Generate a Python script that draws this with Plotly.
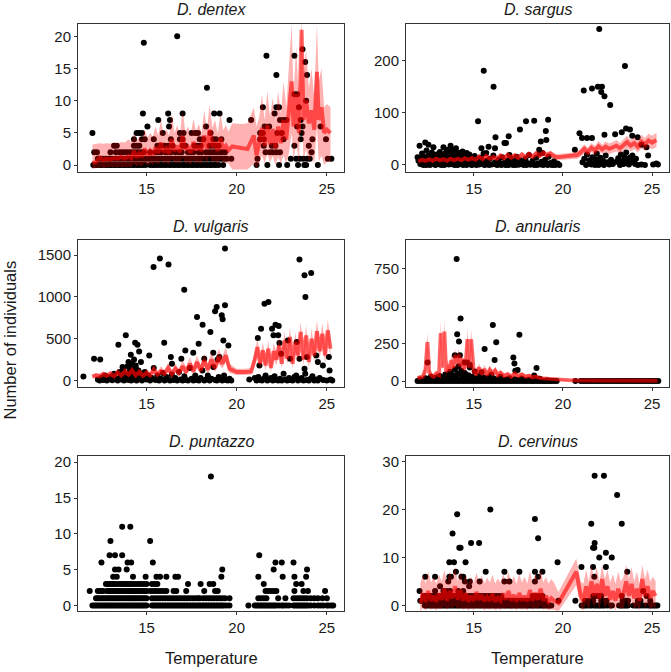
import plotly.graph_objects as go

# ---------------- D. dentex (count rows) ----------------
dentex_counts = [0, 1, 2, 3, 4, 5, 6, 7, 8, 9, 10, 11, 12, 14, 16, 17, 18, 19, 20]
dentex_temps = [
    [12.05, 12.2, 12.3, 12.45, 12.55, 12.7, 12.8, 12.95, 13.05, 13.2, 13.3, 13.45, 13.55, 13.7, 13.8, 13.95,
     14.05, 14.2, 14.3, 14.45, 14.55, 14.7, 14.8, 14.95, 15.2, 15.35, 15.45, 15.6, 15.75, 15.85, 16.0, 16.1,
     16.25, 16.35, 16.5, 16.6, 16.75, 16.85, 17.0, 17.1, 17.25, 17.35, 17.5, 17.6, 17.75, 17.85, 18.0, 18.1,
     18.25, 18.35, 18.5, 18.6, 18.75, 18.85, 19.0, 19.25, 21.1, 21.7, 22.35, 22.8, 23.4, 23.75, 23.85, 24.5],
    [12.3, 12.45, 12.6, 12.75, 12.9, 13.0, 13.15, 13.3, 13.45, 13.6, 13.75, 13.9, 14.05, 14.2, 14.35, 14.5,
     14.65, 14.8, 14.95, 15.1, 15.25, 15.4, 15.55, 15.7, 15.85, 16.0, 16.15, 16.3, 16.45, 16.6, 16.75, 16.9,
     17.05, 17.2, 17.35, 17.5, 17.65, 17.8, 17.95, 18.1, 18.25, 18.4, 18.55, 18.7, 18.85, 19.0, 19.15, 19.3,
     19.45, 19.7, 21.15, 23.0, 23.3, 23.5, 23.7, 23.9, 24.05, 25.05, 25.25],
    [12.1, 12.25, 13.0, 13.3, 13.5, 13.65, 13.8, 13.95, 14.1, 14.25, 14.4, 14.55, 14.7, 14.85, 15.2, 15.5,
     15.65, 15.8, 16.05, 16.2, 16.35, 16.6, 16.8, 16.95, 17.3, 17.45, 17.6, 17.9, 18.05, 18.3, 18.45, 18.6,
     18.75, 18.9, 19.05, 19.2, 19.35, 21.6, 21.85, 22.0, 22.2, 22.4, 24.15],
    [13.2, 13.35, 14.3, 14.45, 14.6, 15.6, 15.75, 16.0, 16.2, 16.45, 17.0, 17.15, 17.65, 17.8, 18.0, 18.5,
     18.65, 18.8, 19.0, 21.5, 21.95, 22.15, 23.2, 24.0],
    [14.3, 14.75, 14.9, 15.4, 16.35, 16.85, 17.0, 17.95, 18.15, 18.7, 18.85, 19.15, 21.3, 21.5, 22.6, 23.55,
     24.2, 24.95],
    [12.0, 14.45, 14.6, 14.75, 15.9, 16.85, 17.05, 17.5, 17.7, 17.85, 18.55, 21.3, 21.45, 22.25, 22.5, 23.6],
    [15.05, 16.25, 18.3, 21.55, 21.8, 23.35, 23.65, 24.65],
    [15.65, 16.3, 19.6, 20.8, 22.4, 22.6, 22.75, 23.55],
    [14.8, 16.2, 17.0, 18.75, 19.05, 22.1],
    [21.45, 22.2, 22.35, 23.45],
    [23.85],
    [23.2, 23.35],
    [18.35],
    [22.2, 23.9],
    [23.8],
    [21.65, 23.2],
    [23.65],
    [14.85],
    [16.7],
]
dentex_fit_t = [12.0, 12.2, 12.4, 12.6, 12.8, 13.0, 13.2, 13.4, 13.6, 13.8, 14.0, 14.15, 14.3, 14.45, 14.6,
                14.75, 14.9, 15.05, 15.2, 15.35, 15.5, 15.65, 15.8, 15.95, 16.1, 16.25, 16.4, 16.55, 16.7,
                16.85, 17.0, 17.15, 17.3, 17.45, 17.6, 17.75, 17.9, 18.05, 18.2, 18.35, 18.5, 18.65, 18.8,
                18.95, 19.1, 19.25, 19.4, 19.55, 19.75, 20.3, 20.6, 20.95, 21.1, 21.25, 21.4, 21.55, 21.7,
                21.85, 22.0, 22.15, 22.3, 22.45, 22.6, 22.75, 22.9, 23.05, 23.15, 23.3, 23.45, 23.6, 23.7,
                23.85, 24.0, 24.15, 24.3, 24.45, 24.55, 24.7, 24.85, 25.0, 25.2]
dentex_fit = [0.3, 0.5, 1.2, 0.8, 1.0, 0.9, 1.1, 1.0, 1.3, 1.0,
              1.4, 1.1, 2.2, 1.2, 1.8, 1.3, 2.6, 1.5, 2.2, 1.6,
              2.8, 1.9, 3.5, 2.0, 2.6, 1.8, 4.0, 2.2, 3.0, 2.0,
              4.5, 2.4, 2.8, 1.9, 3.6, 2.3, 3.0, 2.2, 4.6, 2.5,
              5.5, 2.8, 3.6, 2.2, 4.2, 2.5, 3.0, 2.3, 2.9, 2.6,
              2.5, 4.6, 1.5, 3.5, 5.8, 3.0, 6.2, 3.2, 5.6, 2.6,
              6.0, 3.4, 7.0, 4.0, 8.0, 13.0, 6.0, 11.0, 5.0, 21.0,
              7.0, 10.0, 6.5, 8.5, 5.5, 14.5, 7.0, 9.0, 5.0, 5.5,
              5.0]
dentex_lo = [-0.6, -0.5, -0.3, -0.4, -0.3, -0.3, -0.3, -0.3, -0.2, -0.3,
             -0.2, -0.3, 0.2, -0.2, 0.0, -0.2, 0.4, -0.1, 0.3, 0.0,
             0.5, 0.1, 0.8, 0.2, 0.4, 0.1, 1.0, 0.3, 0.5, 0.2,
             1.2, 0.3, 0.4, 0.1, 0.8, 0.3, 0.5, 0.2, 1.2, 0.3,
             1.5, 0.4, 0.7, 0.2, 1.0, 0.3, 0.4, 0.2, -0.7, -0.7,
             -0.7, 0.2, -0.5, 0.2, 1.5, 0.3, 1.8, 0.4, 1.4, 0.0,
             1.2, 0.2, 1.5, 0.3, 2.0, 5.0, 0.8, 3.5, 0.2, 12.0,
             0.8, 2.5, 0.5, 1.5, 0.2, 6.0, 0.5, 1.5, 0.0, 0.5,
             0.5]
dentex_hi = [3.2, 3.3, 3.4, 3.3, 3.4, 3.3, 3.5, 3.4, 3.6, 3.5,
             4.0, 3.6, 5.0, 3.8, 4.5, 3.9, 5.5, 4.2, 5.0, 4.4,
             6.0, 4.6, 7.0, 4.8, 5.6, 4.6, 8.0, 5.0, 6.2, 4.8,
             8.5, 5.2, 6.0, 4.7, 7.2, 5.2, 6.4, 5.0, 8.5, 5.4,
             9.5, 5.8, 7.0, 5.0, 8.0, 5.4, 6.2, 5.2, 6.5, 6.4,
             6.5, 9.0, 6.0, 7.5, 11.0, 7.0, 11.5, 7.5, 10.5, 7.0,
             11.5, 8.0, 13.0, 9.0, 15.0, 22.0, 11.0, 18.5, 10.0, 23.0,
             13.5, 18.0, 12.0, 15.0, 10.5, 22.0, 13.0, 15.0, 9.0, 9.5,
             9.0]

# ---------------- D. sargus (temperature, count) ----------------
sargus_obs = [
    (11.85, 15), (11.96, 37), (12.28, 43), (12.46, 39), (12.74, 34), (13.3, 34), (13.48, 29), (13.7, 37),
    (13.81, 29), (14.0, 32), (14.37, 26), (14.6, 23), (15.24, 84), (15.43, 32), (15.56, 181), (15.7, 23),
    (15.83, 35), (16.11, 150), (16.22, 53), (16.19, 32), (16.72, 42), (16.96, 55), (16.81, 42), (17.0, 19),
    (17.59, 68), (17.93, 84), (18.39, 85), (18.67, 29), (18.76, 45), (19.04, 65), (19.07, 48), (19.17, 87),
    (18.85, 23), (20.67, 29), (20.93, 61), (21.07, 52), (21.17, 143), (21.35, 52), (21.63, 52), (21.63, 147),
    (22.04, 261), (21.96, 150), (22.19, 150), (22.15, 140), (22.33, 132), (22.65, 115), (22.33, 58),
    (22.93, 59), (23.3, 63), (23.48, 190), (23.54, 70), (23.76, 68), (23.89, 56), (24.19, 53), (24.41, 39),
    (24.69, 34), (24.78, 18), (25.06, 1), (25.24, 3), (25.33, 1),
    (11.9, 8), (12.0, 2), (12.05, 12), (12.1, 22), (12.15, 5), (12.2, 0), (12.25, 15), (12.3, 9), (12.35, 28),
    (12.4, 3), (12.45, 18), (12.5, 6), (12.55, 0), (12.6, 12), (12.65, 24), (12.7, 4), (12.75, 16), (12.8, 8),
    (12.85, 1), (12.9, 20), (12.95, 10), (13.0, 3), (13.05, 14), (13.1, 25), (13.15, 6), (13.2, 0), (13.25, 18),
    (13.3, 9), (13.35, 2), (13.4, 22), (13.45, 12), (13.5, 5), (13.55, 16), (13.6, 1), (13.65, 26), (13.7, 8),
    (13.75, 14), (13.8, 3), (13.85, 20), (13.9, 10), (13.95, 0), (14.0, 17), (14.05, 6), (14.1, 24), (14.15, 12),
    (14.2, 2), (14.25, 19), (14.3, 8), (14.35, 14), (14.4, 0), (14.45, 22), (14.5, 5), (14.55, 11), (14.6, 16),
    (14.65, 2), (14.7, 9), (14.75, 20), (14.8, 4), (14.85, 13), (14.9, 0), (14.95, 7), (15.05, 17), (15.1, 3),
    (15.2, 10), (15.3, 1), (15.4, 14), (15.5, 5), (15.55, 22), (15.6, 0), (15.7, 8), (15.8, 3), (15.9, 12),
    (16.0, 1), (16.1, 18), (16.2, 5), (16.3, 0), (16.4, 10), (16.5, 2), (16.6, 15), (16.7, 4), (16.8, 0),
    (16.9, 8), (17.0, 2), (17.1, 12), (17.2, 0), (17.3, 6), (17.4, 16), (17.5, 1), (17.6, 9), (17.7, 3),
    (17.8, 0), (17.9, 12), (18.0, 4), (18.1, 19), (18.2, 1), (18.3, 8), (18.4, 0), (18.5, 14), (18.6, 3),
    (18.7, 22), (18.8, 6), (18.9, 0), (19.0, 10), (19.1, 2), (19.2, 16), (19.3, 4), (19.4, 0), (19.5, 7),
    (19.6, 1), (19.7, 3), (19.8, 0),
    (12.1, 1), (12.35, 0), (12.6, 2), (12.85, 0), (13.1, 1), (13.35, 0), (13.6, 3), (13.85, 1), (14.1, 0),
    (14.35, 2), (14.6, 0), (14.85, 1), (15.15, 0), (15.35, 2), (15.65, 1), (15.85, 0), (16.15, 2), (16.35, 1),
    (16.55, 0), (16.75, 1), (16.95, 0), (17.15, 2), (17.35, 0), (17.55, 1), (17.75, 2), (17.95, 0), (18.15, 1),
    (18.35, 2), (18.55, 0), (18.75, 1), (18.95, 2), (19.15, 0), (19.35, 1), (19.55, 0),
    (21.1, 5), (21.2, 12), (21.3, 0), (21.35, 20), (21.45, 3), (21.5, 9), (21.6, 1), (21.65, 15), (21.75, 4),
    (21.8, 0), (21.85, 11), (21.9, 22), (21.95, 6), (22.0, 0), (22.1, 14), (22.15, 3), (22.25, 8), (22.3, 0),
    (22.4, 18), (22.5, 5), (22.6, 1), (22.7, 10), (22.8, 2), (23.0, 6), (23.1, 13), (23.2, 0), (23.25, 20),
    (23.3, 7), (23.4, 2), (23.45, 15), (23.5, 4), (23.55, 24), (23.6, 9), (23.7, 1), (23.75, 14), (23.8, 5),
    (23.9, 18), (24.0, 8), (24.05, 2), (24.1, 12), (24.2, 0), (24.4, 1), (24.6, 0),
]
sargus_fit_t = [11.9, 12.1, 12.3, 12.5, 12.7, 12.9, 13.1, 13.3, 13.5, 13.7, 13.9, 14.1, 14.3, 14.5, 14.7,
                14.9, 15.1, 15.3, 15.5, 15.7, 15.9, 16.1, 16.3, 16.5, 16.7, 16.9, 17.1, 17.3, 17.5, 17.7,
                17.9, 18.1, 18.3, 18.5, 18.7, 18.9, 19.1, 19.3, 19.5, 19.7, 20.0, 20.4, 20.8, 21.0, 21.2,
                21.4, 21.6, 21.8, 22.0, 22.2, 22.4, 22.6, 22.8, 23.0, 23.2, 23.4, 23.6, 23.8, 24.0, 24.2,
                24.4, 24.6, 24.8, 25.0, 25.25]
sargus_fit = [7, 10, 8, 11, 8, 12, 9, 11, 8, 12, 9, 12, 9, 13, 10, 13, 10, 16, 11, 17,
              12, 15, 12, 18, 13, 19, 14, 18, 14, 20, 15, 21, 16, 22, 18, 23, 19, 22, 17, 15,
              16, 17, 19, 24, 31, 25, 33, 28, 36, 30, 35, 31, 34, 37, 32, 39, 44, 37, 42, 35,
              45, 40, 47, 43, 48]
sargus_lo = [3, 6, 4, 7, 4, 8, 5, 7, 4, 8, 5, 8, 5, 9, 6, 9, 6, 11, 7, 12,
             8, 10, 8, 13, 9, 14, 9, 13, 9, 14, 10, 15, 11, 16, 12, 17, 13, 16, 11, 10,
             10, 11, 12, 16, 22, 17, 24, 19, 26, 21, 25, 21, 24, 26, 22, 28, 32, 26, 30, 24,
             32, 28, 34, 30, 34]
sargus_hi = [11, 14, 12, 15, 12, 16, 13, 15, 12, 16, 13, 16, 13, 17, 14, 18, 14, 21, 15, 22,
             16, 20, 17, 23, 18, 25, 19, 24, 19, 26, 20, 27, 21, 28, 24, 29, 25, 28, 23, 20,
             22, 23, 26, 32, 40, 33, 42, 37, 46, 39, 45, 41, 44, 48, 42, 50, 56, 48, 54, 46,
             58, 52, 60, 56, 62]

# ---------------- D. vulgaris (temperature, count) ----------------
vulgaris_obs = [
    (11.5, 48), (12.09, 260), (12.43, 252), (13.44, 428), (13.67, 160), (13.85, 540), (14.0, 220),
    (14.13, 308), (14.31, 252), (14.37, 452), (14.5, 428), (14.59, 348), (14.4, 180), (14.19, 148),
    (14.69, 220), (15.15, 300), (15.39, 1360), (15.74, 1460), (15.98, 452), (16.22, 1388), (16.35, 280),
    (16.41, 200), (17.09, 1088), (17.15, 360), (16.93, 260), (17.59, 332), (17.8, 760), (17.89, 440),
    (18.11, 668), (18.2, 260), (18.54, 580), (18.7, 332), (18.8, 828), (18.89, 880), (19.17, 780),
    (19.22, 732), (19.35, 1580), (19.35, 900), (19.26, 480), (19.54, 420), (19.04, 280), (18.94, 252),
    (21.17, 508), (21.35, 620), (21.54, 920), (21.76, 940), (21.96, 620), (22.04, 540), (22.15, 668),
    (22.33, 652), (22.3, 540), (22.37, 448), (22.46, 320), (22.83, 480), (22.96, 260), (23.48, 1448),
    (23.76, 1260), (23.81, 1000), (24.13, 1288), (23.33, 460), (23.48, 260), (23.76, 140), (23.89, 280),
    (24.41, 300), (24.5, 220), (25.11, 280), (25.15, 120), (24.78, 180), (21.26, 180),
    (12.3, 10), (12.4, 0), (12.5, 30), (12.6, 5), (12.7, 60), (12.8, 0), (12.9, 15), (13.0, 40), (13.1, 2),
    (13.2, 80), (13.3, 20), (13.4, 0), (13.5, 100), (13.55, 50), (13.6, 10), (13.7, 130), (13.75, 0),
    (13.8, 70), (13.9, 30), (13.95, 170), (14.0, 5), (14.05, 110), (14.1, 60), (14.15, 0), (14.2, 200),
    (14.25, 40), (14.3, 90), (14.35, 10), (14.4, 150), (14.45, 0), (14.5, 60), (14.55, 120), (14.6, 20),
    (14.7, 80), (14.75, 0), (14.8, 40), (14.9, 100), (15.0, 10), (15.1, 60), (15.2, 0), (15.3, 30),
    (15.4, 150), (15.5, 5), (15.6, 60), (15.7, 0), (15.8, 20), (15.9, 90), (16.0, 0), (16.1, 40), (16.2, 10),
    (16.3, 0), (16.4, 70), (16.5, 5), (16.6, 30), (16.7, 0), (16.8, 100), (16.9, 10), (17.0, 0), (17.1, 50),
    (17.2, 5), (17.3, 0), (17.4, 150), (17.5, 20), (17.6, 0), (17.7, 60), (17.8, 5), (17.9, 0), (18.0, 30),
    (18.1, 120), (18.2, 0), (18.3, 10), (18.4, 60), (18.5, 0), (18.6, 20), (18.7, 160), (18.8, 5), (18.9, 0),
    (19.0, 40), (19.1, 10), (19.2, 0), (19.3, 60), (19.4, 5), (19.5, 0), (19.6, 20), (19.7, 0),
    (20.7, 10), (21.0, 30), (21.1, 0), (21.2, 40), (21.3, 5), (21.4, 0), (21.5, 20), (21.6, 60), (21.7, 0),
    (21.8, 10), (21.9, 30), (22.0, 0), (22.1, 50), (22.2, 5), (22.3, 0), (22.4, 20), (22.5, 0), (22.6, 80),
    (22.7, 10), (22.8, 0), (22.9, 30), (23.0, 5), (23.1, 0), (23.2, 40), (23.3, 60), (23.4, 0), (23.5, 10),
    (23.6, 30), (23.7, 0), (23.8, 80), (23.9, 5), (24.0, 0), (24.1, 20), (24.2, 50), (24.3, 0), (24.4, 10),
    (24.5, 0), (24.6, 30), (24.8, 5), (25.0, 0), (25.2, 10), (25.3, 0),
]
vulgaris_fit_t = [12.0, 12.2, 12.4, 12.6, 12.8, 13.0, 13.2, 13.4, 13.6, 13.8, 14.0, 14.2, 14.4, 14.6, 14.8,
                  15.0, 15.2, 15.4, 15.6, 15.8, 16.0, 16.2, 16.4, 16.6, 16.8, 17.0, 17.2, 17.4, 17.6, 17.8,
                  18.0, 18.2, 18.4, 18.6, 18.8, 19.0, 19.2, 19.4, 19.6, 20.0, 20.4, 20.8, 21.0, 21.15, 21.3,
                  21.45, 21.6, 21.75, 21.9, 22.05, 22.2, 22.35, 22.5, 22.65, 22.8, 22.95, 23.1, 23.25, 23.4,
                  23.55, 23.7, 23.85, 24.0, 24.15, 24.3, 24.45, 24.6, 24.75, 24.9, 25.05, 25.2]
vulgaris_fit = [45, 60, 50, 75, 55, 80, 50, 95, 60, 110, 70, 120, 60, 100, 55, 90, 60, 130, 70, 110,
                80, 150, 75, 140, 90, 170, 100, 200, 110, 220, 120, 240, 130, 250, 150, 280, 200, 300, 140, 100,
                100, 105, 250, 400, 200, 360, 180, 380, 150, 350, 250, 420, 200, 480, 260, 520, 200, 460, 300, 580,
                250, 540, 220, 500, 300, 590, 350, 560, 300, 600, 380]
vulgaris_lo = [25, 35, 28, 45, 30, 50, 28, 60, 35, 70, 40, 80, 35, 60, 30, 55, 35, 85, 40, 70,
               50, 100, 45, 90, 55, 115, 60, 140, 70, 155, 75, 170, 80, 180, 100, 200, 140, 220, 90, 65,
               65, 70, 180, 310, 140, 270, 120, 290, 100, 260, 180, 330, 140, 380, 190, 410, 140, 360, 220, 470,
               180, 430, 150, 390, 220, 470, 260, 440, 210, 480, 280]
vulgaris_hi = [70, 90, 80, 110, 85, 120, 80, 140, 90, 160, 105, 170, 95, 150, 90, 140, 95, 190, 110, 170,
               125, 210, 120, 200, 140, 240, 160, 280, 170, 300, 185, 320, 200, 340, 220, 380, 280, 400, 200, 140,
               140, 150, 330, 500, 280, 460, 260, 480, 220, 450, 340, 520, 290, 590, 350, 640, 290, 570, 400, 700,
               340, 660, 310, 620, 400, 720, 460, 690, 400, 730, 500]

# ---------------- D. annularis ----------------
annularis_zero_t = [11.85, 12.0, 12.15, 12.3, 12.45, 12.6, 12.75, 12.9, 13.05, 13.2, 13.35, 13.5, 13.65, 13.8,
                    13.95, 14.1, 14.25, 14.4, 14.55, 14.7, 14.85, 15.0, 15.15, 15.3, 15.45, 15.6, 15.75, 15.9,
                    16.05, 16.2, 16.35, 16.5, 16.65, 16.8, 16.95, 17.1, 17.25, 17.4, 17.55, 17.7, 17.85, 18.0,
                    18.15, 18.3, 18.45, 18.6, 18.75, 18.9, 19.05, 19.2, 19.35, 19.5, 19.65, 20.7, 21.0, 21.15,
                    21.3, 21.45, 21.6, 21.75, 21.9, 22.05, 22.2, 22.35, 22.5, 22.65, 22.8, 22.95, 23.1, 23.25,
                    23.4, 23.55, 23.7, 23.85, 24.0, 24.15, 24.3, 24.45, 24.6, 24.75, 24.9, 25.05, 25.2, 25.35]
annularis_obs = [
    (14.04, 815), (14.26, 417), (14.07, 313), (14.17, 265), (13.94, 172), (14.22, 172), (14.48, 124),
    (14.63, 124), (14.78, 91), (15.06, 65), (15.61, 215), (16.07, 374), (16.26, 259), (16.17, 141),
    (17.22, 157), (17.28, 117), (17.33, 70), (17.46, 74), (17.56, 309), (18.39, 37), (18.52, 87),
    (12.41, 124), (13.67, 63), (14.78, 109), (15.44, 59), (15.98, 43),
    (12.0, 10), (12.2, 5), (12.3, 20), (12.5, 15), (12.6, 30), (12.8, 8), (12.9, 25), (13.0, 12), (13.1, 35),
    (13.2, 5), (13.3, 20), (13.4, 45), (13.5, 10), (13.6, 30), (13.7, 60), (13.8, 15), (13.85, 40),
    (13.95, 80), (14.0, 25), (14.1, 50), (14.15, 100), (14.2, 10), (14.3, 70), (14.35, 35), (14.45, 20),
    (14.5, 55), (14.6, 10), (14.7, 40), (14.8, 15), (14.9, 30), (15.0, 5), (15.1, 20), (15.2, 10), (15.3, 35),
    (15.4, 5), (15.5, 15), (15.6, 25), (15.7, 5), (15.8, 12), (15.9, 30), (16.0, 8), (16.1, 20), (16.3, 5),
    (16.4, 15), (16.5, 30), (16.6, 5), (16.8, 10), (17.0, 20), (17.1, 5), (17.3, 12), (17.5, 8), (17.7, 18),
    (17.9, 5), (18.1, 10), (18.3, 3), (18.5, 8), (18.7, 15), (18.9, 3), (19.1, 6), (19.3, 2),
]
annularis_fit_t = [11.85, 12.0, 12.15, 12.3, 12.4, 12.5, 12.6, 12.75, 12.9, 13.05, 13.15, 13.25, 13.35, 13.45,
                   13.55, 13.65, 13.75, 13.85, 13.95, 14.05, 14.15, 14.25, 14.35, 14.45, 14.55, 14.65, 14.75,
                   14.85, 15.0, 15.15, 15.3, 15.45, 15.6, 15.75, 15.9, 16.05, 16.2, 16.35, 16.5, 16.7, 16.9,
                   17.1, 17.3, 17.5, 17.7, 17.9, 18.1, 18.3, 18.5, 18.7, 18.9, 19.1, 19.3, 19.5, 19.8, 20.5,
                   21.0, 21.5, 22.0, 22.5, 23.0, 23.5, 24.0, 24.5, 25.0, 25.3]
annularis_fit = [20, 25, 30, 80, 260, 60, 40, 30, 50, 40, 320, 90, 330, 60, 110, 70, 140, 90, 170, 120,
                 175, 100, 150, 80, 110, 280, 90, 280, 60, 50, 90, 45, 80, 40, 75, 50, 70, 40, 55, 35,
                 45, 30, 50, 35, 45, 30, 35, 25, 30, 20, 18, 12, 10, 8, 6, 5, 4, 4, 3, 3,
                 3, 3, 2, 2, 2, 2]
annularis_lo = [10, 12, 15, 50, 190, 40, 25, 18, 32, 25, 240, 65, 250, 40, 80, 50, 100, 65, 125, 85,
                130, 70, 110, 55, 80, 210, 62, 210, 40, 32, 62, 30, 55, 25, 50, 32, 48, 25, 36, 22,
                30, 18, 32, 22, 30, 18, 22, 15, 18, 12, 10, 6, 5, 4, 3, 2, 2, 2, 1, 1,
                1, 1, 1, 1, 1, 1]
annularis_hi = [35, 40, 45, 110, 330, 85, 60, 45, 70, 60, 400, 120, 410, 85, 145, 95, 180, 120, 215, 155,
                220, 130, 190, 105, 145, 350, 120, 350, 85, 70, 120, 65, 110, 60, 100, 70, 95, 60, 75, 50,
                65, 45, 70, 50, 60, 45, 50, 38, 42, 30, 28, 20, 16, 13, 10, 9, 7, 7, 6, 6,
                6, 6, 5, 5, 5, 5]

# ---------------- D. puntazzo (count rows, no fitted line) ----------------
puntazzo_counts = [0, 1, 2, 3, 4, 5, 6, 7, 9, 11, 18]
puntazzo_temps = [
    [12.0, 12.1, 12.2, 12.3, 12.4, 12.5, 12.6, 12.7, 12.8, 12.9, 13.0, 13.1, 13.2, 13.3, 13.4, 13.5, 13.6,
     13.7, 13.8, 13.9, 14.0, 14.1, 14.2, 14.3, 14.4, 14.5, 14.6, 14.7, 14.8, 14.9, 15.0, 15.3, 15.4, 15.5,
     15.6, 15.7, 15.8, 15.9, 16.0, 16.1, 16.2, 16.3, 16.4, 16.5, 16.6, 16.7, 16.8, 16.9, 17.0, 17.1, 17.2,
     17.3, 17.4, 17.5, 17.6, 17.7, 17.8, 17.9, 18.0, 18.1, 18.2, 18.3, 18.4, 18.5, 18.6, 18.7, 18.8, 18.9,
     19.0, 19.1, 19.2, 19.3, 19.45, 19.6, 20.65, 21.0, 21.1, 21.2, 21.3, 21.4, 21.5, 21.6, 21.7, 21.8, 21.9,
     22.0, 22.1, 22.2, 22.35, 22.5, 22.6, 22.75, 22.9, 23.15, 23.25, 23.35, 23.45, 23.55, 23.65, 23.75,
     23.85, 23.95, 24.1, 24.3, 24.5, 24.65, 24.8, 25.0, 25.1, 25.25, 25.35],
    [12.2, 12.3, 12.4, 12.5, 12.6, 12.7, 12.8, 12.9, 13.0, 13.1, 13.2, 13.3, 13.4, 13.5, 13.6, 13.7, 13.8,
     13.9, 14.0, 14.1, 14.2, 14.3, 14.4, 14.5, 14.6, 14.7, 14.8, 14.9, 15.0, 15.3, 15.45, 15.6, 15.75, 15.9,
     16.05, 16.2, 16.35, 16.5, 16.65, 16.8, 16.95, 17.1, 17.25, 17.4, 17.55, 17.7, 17.85, 17.95, 18.15, 18.3,
     18.45, 18.6, 18.75, 18.9, 19.05, 19.2, 19.35, 19.6, 21.2, 21.35, 21.5, 21.65, 22.3, 22.7, 23.15, 23.3,
     23.45, 23.6, 23.75, 23.9, 24.1, 24.3, 24.5, 24.75, 25.0],
    [11.85, 12.3, 12.4, 12.5, 12.6, 12.8, 12.9, 13.0, 13.1, 13.2, 13.3, 13.4, 13.5, 13.6, 13.7, 13.8, 13.9,
     14.0, 14.1, 14.2, 14.3, 14.4, 14.5, 14.6, 14.7, 14.8, 14.9, 15.0, 15.2, 15.35, 15.5, 15.65, 15.8, 15.95,
     16.1, 16.5, 16.65, 17.2, 18.2, 18.8, 18.95, 21.6, 21.75, 21.9, 22.05, 22.2, 23.2, 23.7, 23.95, 24.9],
    [12.75, 12.85, 12.95, 13.05, 13.15, 13.25, 13.4, 13.55, 13.65, 13.75, 13.85, 13.95, 14.05, 14.15, 14.25,
     14.4, 14.55, 14.7, 14.85, 15.0, 15.3, 15.45, 15.6, 17.3, 18.0, 18.5, 18.7, 21.5, 23.3, 23.6],
    [13.15, 13.35, 14.25, 14.95, 15.55, 15.75, 16.1, 16.6, 16.75, 19.15, 21.2, 22.55, 23.2, 23.85],
    [13.25, 13.45, 13.9, 19.2, 22.05, 23.9],
    [12.5, 13.95, 14.15, 15.35, 22.15, 22.5, 23.15],
    [12.95, 13.25, 13.65, 21.25],
    [13.0, 15.2],
    [13.65, 14.1],
    [18.57],
]

# ---------------- D. cervinus (count rows) ----------------
cervinus_counts = [0, 1, 2, 3, 4, 5, 6, 7, 8, 9, 10, 11, 12, 13, 14, 15, 17, 18, 19, 20, 23, 27]
cervinus_temps = [
    [12.25, 12.35, 12.45, 12.55, 12.65, 12.75, 12.85, 12.95, 13.05, 13.15, 13.25, 13.35, 13.45, 13.55, 13.65,
     13.75, 13.85, 13.95, 14.05, 14.15, 14.25, 14.35, 14.45, 14.55, 14.65, 14.75, 14.85, 14.95, 15.05, 15.15,
     15.25, 15.35, 15.45, 15.55, 15.65, 15.75, 15.85, 15.95, 16.05, 16.15, 16.25, 16.35, 16.45, 16.55, 16.65,
     16.75, 16.85, 16.95, 17.05, 17.15, 17.25, 17.35, 17.45, 17.55, 17.65, 17.75, 17.85, 17.95, 18.05, 18.15,
     18.25, 18.35, 18.45, 18.55, 18.65, 18.75, 18.85, 18.95, 19.05, 19.15, 19.25, 19.35, 21.05, 21.15, 21.25,
     21.35, 21.5, 21.6, 21.75, 21.85, 21.95, 22.05, 22.15, 22.25, 22.35, 22.5, 22.65, 22.75, 23.15, 23.25,
     23.35, 23.45, 23.55, 23.65, 23.95, 24.1, 24.2, 24.35, 24.5, 24.65, 24.8, 24.9, 25.0, 25.1, 25.2, 25.3],
    [12.0, 12.1, 12.2, 12.3, 12.4, 12.5, 12.6, 12.7, 12.8, 12.9, 13.0, 13.1, 13.2, 13.3, 13.4, 13.5, 13.6,
     13.7, 13.8, 13.9, 14.0, 14.1, 14.2, 14.3, 14.4, 14.5, 14.6, 14.7, 14.8, 14.9, 15.0, 15.1, 15.2, 15.3,
     15.4, 15.5, 15.6, 15.7, 15.8, 15.9, 16.0, 16.1, 16.2, 16.3, 16.4, 16.5, 16.6, 16.7, 16.8, 16.9, 17.0,
     17.1, 17.2, 17.3, 17.4, 17.5, 17.6, 17.7, 17.8, 17.9, 18.0, 18.1, 18.2, 18.3, 18.4, 18.5, 18.6, 18.7,
     18.8, 18.9, 19.0, 19.75, 20.7, 21.25, 21.45, 21.7, 22.15, 22.3, 22.45, 23.35, 23.5, 23.65, 24.2, 24.35,
     24.9],
    [12.2, 12.35, 12.5, 12.65, 12.8, 12.95, 13.1, 13.25, 13.4, 13.55, 13.7, 13.85, 14.0, 14.15, 14.3, 14.45,
     14.6, 14.75, 14.9, 15.05, 15.2, 15.35, 15.5, 15.65, 15.8, 15.95, 16.1, 16.25, 16.4, 16.55, 18.3, 18.5,
     18.7, 18.85, 21.7, 21.85, 22.0, 22.15, 23.3, 24.7],
    [11.96, 12.83, 13.3, 13.48, 13.67, 14.13, 14.41, 24.5],
    [13.11, 14.74],
    [13.57, 14.5, 14.78, 15.33, 16.72, 17.0, 18.43],
    [12.28, 12.83, 13.63, 13.72, 14.31, 14.41, 18.61, 21.76],
    [14.0, 15.67, 16.72, 17.56, 18.43, 18.85, 23.61],
    [21.04, 21.69, 22.41],
    [13.63, 13.89, 14.54, 19.7],
    [22.04, 22.74],
    [22.41],
    [14.19, 14.26, 21.69, 21.76],
    [14.85, 15.3, 21.78],
    [18.61],
    [13.81],
    [21.59, 23.3],
    [18.43],
    [14.07],
    [15.93],
    [23.04],
    [21.78, 22.3],
]
cervinus_fit_t = [12.0, 12.15, 12.3, 12.45, 12.6, 12.75, 12.9, 13.05, 13.2, 13.35, 13.5, 13.65, 13.8, 13.95,
                  14.1, 14.25, 14.4, 14.55, 14.7, 14.85, 15.0, 15.15, 15.3, 15.45, 15.6, 15.75, 15.9, 16.05,
                  16.2, 16.35, 16.5, 16.65, 16.8, 16.95, 17.1, 17.25, 17.4, 17.55, 17.7, 17.85, 18.0, 18.15,
                  18.3, 18.45, 18.6, 18.75, 18.9, 19.05, 19.2, 19.35, 19.5, 19.75, 20.75, 21.0, 21.15, 21.3,
                  21.45, 21.6, 21.75, 21.9, 22.05, 22.2, 22.35, 22.5, 22.65, 22.8, 22.95, 23.1, 23.25, 23.4,
                  23.55, 23.7, 23.85, 24.0, 24.15, 24.3, 24.45, 24.6, 24.75, 24.9, 25.05, 25.2]
cervinus_fit = [0.5, 2.5, 0.8, 3.0, 1.0, 2.0, 0.8, 2.5, 1.2, 3.5, 1.0, 3.0, 1.5, 4.0, 1.2, 3.2, 1.0, 2.5, 0.8, 2.0,
                1.0, 2.8, 1.2, 2.2, 0.9, 1.8, 1.0, 2.4, 0.8, 1.6, 1.0, 2.5, 1.2, 3.0, 1.0, 2.2, 0.8, 2.6, 1.0, 2.0,
                0.9, 3.2, 1.0, 2.6, 1.2, 3.5, 1.0, 2.0, 0.8, 1.5, 1.0, 0.5, 7.0, 2.0, 1.0, 4.0, 1.5, 5.0, 2.0, 4.5,
                1.5, 5.5, 2.0, 4.0, 1.2, 3.0, 1.0, 3.5, 1.5, 2.5, 5.0, 2.0, 4.5, 1.5, 3.5, 1.0, 5.5, 2.0, 4.0, 1.5,
                3.0, 2.0]
cervinus_lo = [-1.2, -0.5, -1.0, -0.3, -0.9, -0.6, -1.0, -0.5, -0.8, -0.2, -0.9, -0.3, -0.7, 0.0, -0.8, -0.3,
               -0.9, -0.5, -1.0, -0.6, -0.9, -0.4, -0.8, -0.5, -1.0, -0.6, -0.9, -0.5, -1.0, -0.7, -0.9, -0.5,
               -0.8, -0.3, -0.9, -0.5, -1.0, -0.4, -0.9, -0.6, -1.0, -0.2, -0.9, -0.4, -0.8, 0.0, -0.9, -0.6,
               -1.0, -0.8, -0.9, -1.2, 4.2, -0.5, -1.0, 0.5, -0.8, 1.5, -0.5, 1.0, -0.8, 2.0, -0.5, 0.5, -1.0,
               -0.2, -1.0, 0.0, -0.8, -0.5, 1.5, -0.5, 1.0, -0.8, 0.0, -1.0, 2.0, -0.5, 0.5, -0.9, -0.2, -0.5]
cervinus_hi = [4.5, 6.5, 4.5, 7.0, 4.8, 6.0, 4.5, 6.5, 5.0, 7.5, 4.8, 7.0, 5.5, 8.0, 5.0, 7.0, 4.8, 6.5, 4.5, 6.0,
               4.8, 6.8, 5.0, 6.2, 4.6, 5.8, 4.8, 6.4, 4.5, 5.6, 4.8, 6.5, 5.0, 7.0, 4.8, 6.2, 4.5, 6.6, 4.8, 6.0,
               4.6, 7.2, 4.8, 6.6, 5.0, 7.5, 4.8, 6.0, 4.5, 5.5, 4.8, 2.8, 9.8, 5.0, 4.5, 7.5, 5.0, 8.5, 5.5, 8.0,
               5.0, 8.5, 5.5, 7.5, 4.8, 6.5, 4.5, 7.0, 5.0, 6.0, 8.5, 5.5, 8.0, 5.0, 7.0, 4.5, 8.5, 5.5, 7.5, 5.0,
               6.0, 5.0]

titles = ["D. dentex", "D. sargus", "D. vulgaris", "D. annularis", "D. puntazzo", "D. cervinus"]
y_ranges = [[-1.03, 21.94], [-13, 271], [-80, 1680], [-40, 940], [-0.84, 20.92], [-1.24, 31.2]]
y_ticks = [[0, 5, 10, 15, 20], [0, 100, 200], [0, 500, 1000, 1500], [0, 250, 500, 750],
           [0, 5, 10, 15, 20], [0, 10, 20, 30]]
x_ticks = [15, 20, 25]


def rows_to_xy(counts, temps):
    xs, ys = [], []
    for c, tl in zip(counts, temps):
        for t in tl:
            xs.append(t)
            ys.append(c)
    return xs, ys


def pairs_to_xy(obs):
    return [o[0] for o in obs], [o[1] for o in obs]


ann_x, ann_y = pairs_to_xy(annularis_obs)
panels = [
    (rows_to_xy(dentex_counts, dentex_temps), (dentex_fit_t, dentex_lo, dentex_fit, dentex_hi)),
    (pairs_to_xy(sargus_obs), (sargus_fit_t, sargus_lo, sargus_fit, sargus_hi)),
    (pairs_to_xy(vulgaris_obs), (vulgaris_fit_t, vulgaris_lo, vulgaris_fit, vulgaris_hi)),
    ((annularis_zero_t + ann_x, [0] * len(annularis_zero_t) + ann_y),
     (annularis_fit_t, annularis_lo, annularis_fit, annularis_hi)),
    (rows_to_xy(puntazzo_counts, puntazzo_temps), None),
    (rows_to_xy(cervinus_counts, cervinus_temps), (cervinus_fit_t, cervinus_lo, cervinus_fit, cervinus_hi)),
]

W, H = 671, 672
col_px = [(78, 344), (406, 669)]
row_px = [(21, 170), (239, 387), (456, 613)]
FONT = "Liberation Sans, Arial, sans-serif"

fig = go.Figure()
layout = dict(width=W, height=H, margin=dict(l=0, r=0, t=0, b=0), paper_bgcolor="white",
              plot_bgcolor="white", showlegend=False,
              font=dict(family=FONT, color="#1a1a1a"))
annotations = []

for i, ((px_, py_), fit) in enumerate(panels):
    k = i + 1
    sfx = "" if k == 1 else str(k)
    xa, ya = "x" + sfx, "y" + sfx
    fig.add_trace(go.Scatter(x=px_, y=py_, mode="markers", marker=dict(color="black", size=6),
                             xaxis=xa, yaxis=ya, hoverinfo="skip"))
    if fit is not None:
        ft, lo, mean, hi = fit
        fig.add_trace(go.Scatter(x=ft, y=lo, mode="lines", line=dict(width=0, color="rgba(0,0,0,0)"),
                                 xaxis=xa, yaxis=ya, hoverinfo="skip"))
        fig.add_trace(go.Scatter(x=ft, y=hi, mode="lines", line=dict(width=0, color="rgba(0,0,0,0)"),
                                 fill="tonexty", fillcolor="rgba(255,0,0,0.3)",
                                 xaxis=xa, yaxis=ya, hoverinfo="skip"))
        fig.add_trace(go.Scatter(x=ft, y=mean, mode="lines", line=dict(color="rgba(255,0,0,0.6)", width=4),
                                 xaxis=xa, yaxis=ya, hoverinfo="skip"))
    r, c = divmod(i, 2)
    x0, x1 = col_px[c]
    y0, y1 = row_px[r]
    axis_common = dict(showgrid=False, zeroline=False, showline=True, mirror=True, linecolor="#333333",
                       linewidth=1, ticks="outside", ticklen=3, tickcolor="#333333", tickwidth=1,
                       tickfont=dict(size=15, color="#1a1a1a", family=FONT))
    layout["xaxis" + sfx] = dict(axis_common, domain=[x0 / W, x1 / W], range=[11.2, 25.95],
                                 tickvals=x_ticks, anchor=ya)
    layout["yaxis" + sfx] = dict(axis_common, domain=[1 - y1 / H, 1 - y0 / H], range=y_ranges[i],
                                 tickvals=y_ticks[i], anchor=xa)
    annotations.append(dict(text="<i>" + titles[i] + "</i>", x=(x0 + x1) / 2 / W, y=1 - (y0 - 14) / H,
                            xref="paper", yref="paper", showarrow=False, xanchor="center", yanchor="middle",
                            font=dict(size=16, color="#1a1a1a", family=FONT)))

for cx in [(col_px[0][0] + col_px[0][1]) / 2, (col_px[1][0] + col_px[1][1]) / 2]:
    annotations.append(dict(text="Temperature", x=cx / W, y=1 - 660 / H, xref="paper", yref="paper",
                            showarrow=False, xanchor="center", yanchor="middle",
                            font=dict(size=16.5, color="#1a1a1a", family=FONT)))
annotations.append(dict(text="Number of individuals", x=10 / W, y=1 - 340 / H, xref="paper", yref="paper",
                        showarrow=False, xanchor="center", yanchor="middle", textangle=-90,
                        font=dict(size=16.5, color="#1a1a1a", family=FONT)))
layout["annotations"] = annotations
fig.update_layout(**layout)
# remove the browser's default 8px page margin so the figure sits at the window's top-left corner
fig.write_html("out.html", config={"displayModeBar": False},
               post_script="document.body.style.margin='0px';")
